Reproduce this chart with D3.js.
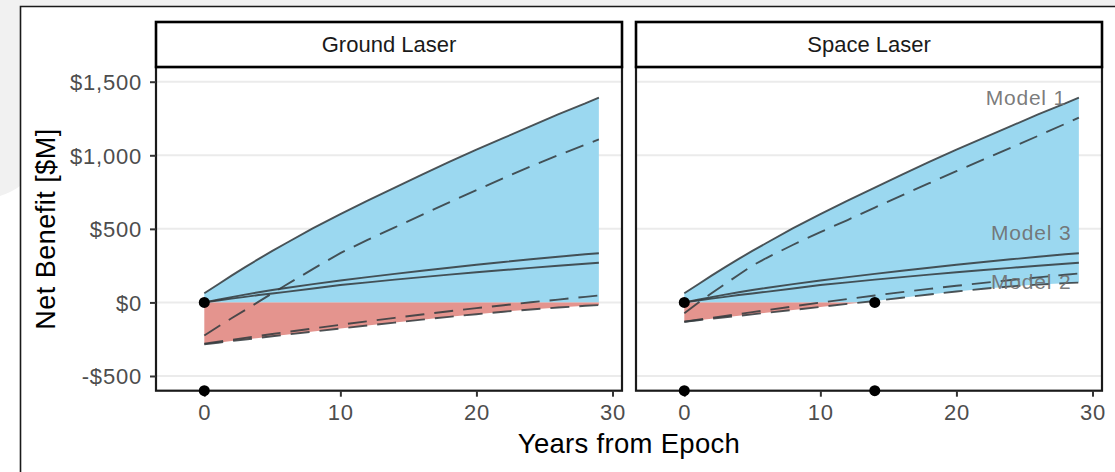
<!DOCTYPE html>
<html>
<head>
<meta charset="utf-8">
<script src="https://cdn.jsdelivr.net/npm/d3@7"></script>
<style>
  html, body { margin: 0; padding: 0; background: #fff; }
  svg { display: block; font-family: "Liberation Sans", Arial, Helvetica, sans-serif; }
</style>
</head>
<body>
<div id="chart"></div>
<script>
// ---- data ----
const years = [0, 1, 2, 3, 4, 5, 6, 8, 10, 12, 14, 16, 18, 20, 22, 24, 26, 28, 29];

// same in both panels
const model1Solid = [62, 122, 182, 240, 296, 350, 402, 505, 600, 692, 780, 868, 955, 1038, 1118, 1198, 1278, 1352, 1392];
const model3Upper = [0, 18, 36, 53, 69, 84, 98, 124, 149, 172, 194, 215, 236, 256, 275, 293, 310, 327, 334];
const model3Lower = [0, 13, 26, 38, 50, 61, 72, 95, 118, 136, 155, 172, 189, 205, 220, 235, 249, 263, 270];

// Ground Laser dashed
const groundModel1Dash = [-225, -165, -108, -52, 5, 62, 118, 228, 335, 425, 510, 595, 680, 763, 845, 925, 1000, 1072, 1108];
const groundDashA = [-280, -267, -254, -241, -228, -215, -202, -177, -152, -128, -105, -82, -60, -39, -19, 1, 19, 38, 47];
const groundDashB = [-285, -274, -263, -252, -241, -230, -219, -198, -177, -157, -137, -117, -98, -80, -63, -48, -35, -23, -18];

// Space Laser dashed
const spaceModel1Dash = [-74, -4, 62, 125, 188, 250, 300, 392, 478, 560, 645, 728, 810, 892, 972, 1052, 1132, 1214, 1256];
const spaceDashC = [-131, -118, -105, -92, -79, -66, -53, -27, -1, 23, 47, 70, 92, 113, 133, 152, 170, 188, 197];
const spaceDashD = [-131, -121, -111, -101, -91, -81, -71, -51, -31, -10, 10, 32, 54, 74, 93, 109, 121, 131, 135];

// break-even markers
const groundPointX = [0, 0];
const groundPointY = [0, -600];
const spacePointX = [0, 0, 14, 14];
const spacePointY = [0, -600, 0, -600];

// model labels (Space Laser panel only)
const labelText = ["Model 1", "Model 3", "Model 2"];
const labelYear = [25.1, 25.5, 25.5];
const labelValue = [1396, 472, 140];

const yTickValues = [-500, 0, 500, 1000, 1500];
const xTickValues = [0, 10, 20, 30];

// ---- layout ----
const width = 1115, height = 472;
const panelTop = 67, panelBottom = 390.7;
const stripTop = 22;
const blue = "#9bd8f0", red = "#e4948e";

const svg = d3.select("#chart").append("svg")
  .attr("width", width)
  .attr("height", height);

// backdrop: grey page behind a white framed card
svg.append("rect").attr("width", width).attr("height", height).attr("fill", "#fff");
svg.append("path")
  .attr("d", "M0,0H1115V6H20V186Q12,192 0,196Z")
  .attr("fill", "#f1f1f1");
svg.append("path")
  .attr("d", "M20.5,472V6.5H1115")
  .attr("fill", "none")
  .attr("stroke", "#1a1a1a")
  .attr("stroke-width", 1.6);

const defs = svg.append("defs");

const y = d3.scaleLinear().domain([-600, 1600]).range([panelBottom, panelTop]);

const panels = [
  {
    name: "Ground Laser", left: 156, right: 622,
    series: [
      { v: model1Solid, dashed: false },
      { v: groundModel1Dash, dashed: true },
      { v: model3Upper, dashed: false },
      { v: model3Lower, dashed: false },
      { v: groundDashA, dashed: true },
      { v: groundDashB, dashed: true }
    ],
    px: groundPointX, py: groundPointY, yAxis: true, labels: false
  },
  {
    name: "Space Laser", left: 636, right: 1102,
    series: [
      { v: model1Solid, dashed: false },
      { v: spaceModel1Dash, dashed: true },
      { v: model3Upper, dashed: false },
      { v: model3Lower, dashed: false },
      { v: spaceDashC, dashed: true },
      { v: spaceDashD, dashed: true }
    ],
    px: spacePointX, py: spacePointY, yAxis: false, labels: true
  }
];

panels.forEach((p, k) => {
  const x = d3.scaleLinear().domain([-3.55, 30.7]).range([p.left, p.right]);
  const w = p.right - p.left;
  const g = svg.append("g");

  // horizontal grid
  g.selectAll("line.grid")
    .data(yTickValues)
    .join("line")
    .attr("x1", p.left).attr("x2", p.right)
    .attr("y1", d => y(d)).attr("y2", d => y(d))
    .attr("stroke", "#ebebeb")
    .attr("stroke-width", 2);

  // envelope of all model runs, split at zero
  const lo = years.map((_, i) => d3.min(p.series, s => s.v[i]));
  const hi = years.map((_, i) => d3.max(p.series, s => s.v[i]));
  const area = d3.area()
    .x((d, i) => x(d))
    .y0((d, i) => y(lo[i]))
    .y1((d, i) => y(hi[i]));

  defs.append("clipPath").attr("id", `pos-${k}`)
    .append("rect")
    .attr("x", p.left).attr("y", panelTop)
    .attr("width", w).attr("height", y(0) - panelTop);
  defs.append("clipPath").attr("id", `neg-${k}`)
    .append("rect")
    .attr("x", p.left).attr("y", y(0))
    .attr("width", w).attr("height", panelBottom - y(0));

  g.append("path").datum(years)
    .attr("d", area)
    .attr("fill", blue)
    .attr("clip-path", `url(#pos-${k})`);
  g.append("path").datum(years)
    .attr("d", area)
    .attr("fill", red)
    .attr("clip-path", `url(#neg-${k})`);

  // model lines
  p.series.forEach(s => {
    const line = d3.line()
      .x((d, i) => x(years[i]))
      .y(d => y(d));
    g.append("path").datum(s.v)
      .attr("d", line)
      .attr("fill", "none")
      .attr("stroke", "#363c40")
      .attr("stroke-opacity", 0.88)
      .attr("stroke-width", 1.9)
      .attr("stroke-dasharray", s.dashed ? "19,10" : null);
  });

  // labels
  if (p.labels) {
    g.selectAll("text.model")
      .data(labelText)
      .join("text")
      .attr("x", (d, i) => x(labelYear[i]))
      .attr("y", (d, i) => y(labelValue[i]))
      .attr("text-anchor", "middle")
      .attr("dominant-baseline", "central")
      .attr("font-size", "21px")
      .attr("letter-spacing", "0.8px")
      .attr("fill", "#6f6f6f")
      .attr("fill-opacity", 0.92)
      .text(d => d);
  }

  // panel border
  g.append("rect")
    .attr("x", p.left).attr("y", panelTop)
    .attr("width", w).attr("height", panelBottom - panelTop)
    .attr("fill", "none")
    .attr("stroke", "#1a1a1a")
    .attr("stroke-width", 2.2);

  // strip
  g.append("rect")
    .attr("x", p.left).attr("y", stripTop)
    .attr("width", w).attr("height", panelTop - stripTop)
    .attr("fill", "#fff")
    .attr("stroke", "#000")
    .attr("stroke-width", 2.6);
  g.append("text")
    .attr("x", (p.left + p.right) / 2)
    .attr("y", (stripTop + panelTop) / 2)
    .attr("text-anchor", "middle")
    .attr("dominant-baseline", "central")
    .attr("font-size", "22px")
    .attr("fill", "#1a1a1a")
    .text(p.name);

  // x axis
  const xAxis = g.append("g")
    .attr("transform", `translate(0,${panelBottom})`)
    .call(d3.axisBottom(x).tickValues(xTickValues).tickSize(6).tickPadding(8));
  xAxis.select(".domain").remove();
  xAxis.selectAll("line").attr("stroke", "#333").attr("stroke-width", 2);
  xAxis.selectAll("text")
    .attr("font-size", "22px")
    .attr("letter-spacing", "0.8px")
    .attr("fill", "#4d4d4d")
    .attr("font-family", null);

  // y axis (left panel only)
  if (p.yAxis) {
    const yAxis = g.append("g")
      .attr("transform", `translate(${p.left},0)`)
      .call(d3.axisLeft(y)
        .tickValues(yTickValues)
        .tickSize(6)
        .tickPadding(8)
        .tickFormat(d => (d < 0 ? "-$" : "$") + d3.format(",")(Math.abs(d))));
    yAxis.select(".domain").remove();
    yAxis.selectAll("line").attr("stroke", "#333").attr("stroke-width", 2);
    yAxis.selectAll("text")
      .attr("font-size", "22px")
      .attr("letter-spacing", "0.8px")
      .attr("fill", "#4d4d4d")
      .attr("dy", "0.36em")
      .attr("font-family", null);
  }

  // break-even points
  g.selectAll("circle")
    .data(p.px)
    .join("circle")
    .attr("cx", d => x(d))
    .attr("cy", (d, i) => y(p.py[i]))
    .attr("r", 5.5)
    .attr("fill", "#000");
});

// axis titles
svg.append("text")
  .attr("x", 629)
  .attr("y", 453)
  .attr("text-anchor", "middle")
  .attr("font-size", "27.5px")
  .attr("letter-spacing", "0.3px")
  .attr("fill", "#000")
  .text("Years from Epoch");

svg.append("text")
  .attr("transform", `translate(55,229) rotate(-90)`)
  .attr("text-anchor", "middle")
  .attr("font-size", "27px")
  .attr("letter-spacing", "0.5px")
  .attr("fill", "#000")
  .text("Net Benefit [$M]");
</script>
</body>
</html>
